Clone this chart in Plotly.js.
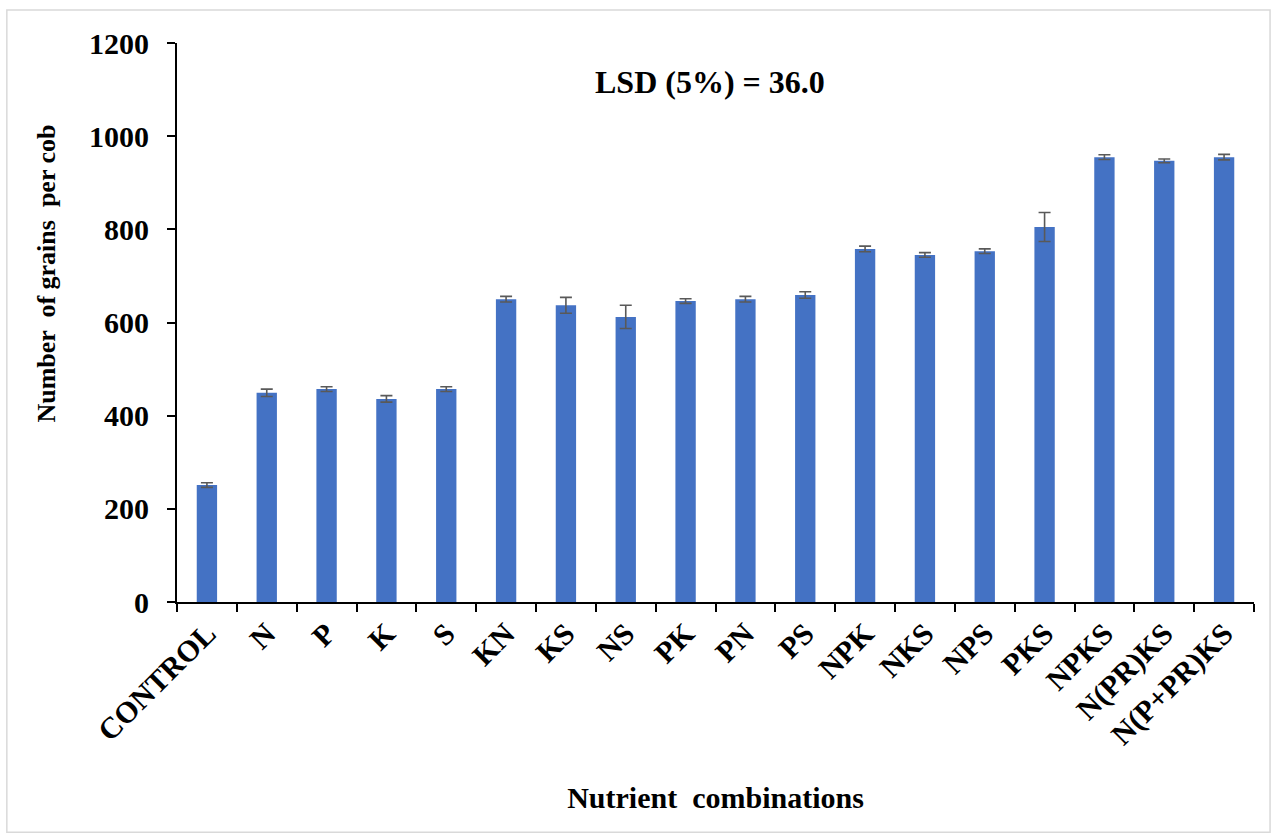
<!DOCTYPE html>
<html>
<head>
<meta charset="utf-8">
<script src="https://cdn.plot.ly/plotly-3.0.1.min.js"></script>
<style>
  html, body { margin: 0; padding: 0; background: #fff; }
  #chart { width: 1273px; height: 835px; }
</style>
</head>
<body>
<div id="chart"></div>
<script>
// treatments and mean grains per cob
var treatments = ["CONTROL", "N", "P", "K", "S", "KN", "KS", "NS", "PK", "PN", "PS",
                  "NPK", "NKS", "NPS", "PKS", "NPKS", "N(PR)KS", "N(P+PR)KS"];
var grains = [251, 449, 457, 436, 457, 650, 637, 612, 646, 650, 659,
              758, 745, 753, 805, 955, 947, 955];
var errs = [5, 8, 5, 7, 5, 6, 17, 25, 5, 6, 7, 6, 5, 5, 31, 5, 4, 6];
var yTicks = [0, 200, 400, 600, 800, 1000, 1200];

var serif = "'Liberation Serif', 'Times New Roman', serif";

var data = [{
    type: "bar",
    x: treatments,
    y: grains,
    marker: { color: "#4472C4" },
    error_y: {
        type: "data",
        array: errs,
        visible: true,
        color: "#595959",
        thickness: 1.6,
        width: 6
    },
    hoverinfo: "x+y"
}];

var layout = {
    width: 1273,
    height: 835,
    margin: { l: 177, r: 19, t: 43, b: 233 },
    paper_bgcolor: "#ffffff",
    plot_bgcolor: "#ffffff",
    showlegend: false,
    bargap: 0.66,
    font: { family: serif, color: "#000", size: 24 },
    xaxis: {
        type: "category",
        tickangle: -45,
        tickson: "boundaries",
        ticks: "outside",
        ticklen: 8,
        tickwidth: 2,
        tickcolor: "#000",
        showline: true,
        linecolor: "#000",
        linewidth: 2,
        showgrid: false,
        tickfont: { family: serif, size: 30, color: "#000", weight: "bold" },
        title: {
            text: "<b>Nutrient  combinations</b>",
            font: { family: serif, size: 30, color: "#000" },
            standoff: 36
        }
    },
    yaxis: {
        range: [0, 1200],
        tickvals: yTicks,
        ticktext: yTicks.map(String),
        ticks: "outside",
        ticklen: 8,
        tickwidth: 2,
        tickcolor: "#000",
        showline: true,
        linecolor: "#000",
        linewidth: 2,
        showgrid: false,
        zeroline: false,
        ticklabelstandoff: 12,
        tickfont: { family: serif, size: 30, color: "#000", weight: "bold" }
    },
    annotations: [{
        xref: "paper", yref: "paper",
        x: 0.495, y: 0.93,
        xanchor: "center", yanchor: "middle",
        showarrow: false,
        text: "<b>LSD (5%) = 36.0</b>",
        font: { family: serif, size: 32, color: "#000" }
    }, {
        // y-axis title sits above the plot's middle in the original
        xref: "paper", yref: "paper",
        x: -0.121, y: 0.587,
        xanchor: "center", yanchor: "middle",
        textangle: -90,
        showarrow: false,
        text: "<b>Number  of grains  per cob</b>",
        font: { family: serif, size: 26, color: "#000" }
    }],
    shapes: [{
        type: "rect",
        xref: "paper", yref: "paper",
        x0: -0.158, x1: 1.0149,
        y0: -0.412, y1: 1.059,
        line: { color: "#d9d9d9", width: 1.5 },
        fillcolor: "rgba(0,0,0,0)",
        layer: "below"
    }]
};

Plotly.newPlot("chart", data, layout, { displayModeBar: false, staticPlot: true });
</script>
</body>
</html>
